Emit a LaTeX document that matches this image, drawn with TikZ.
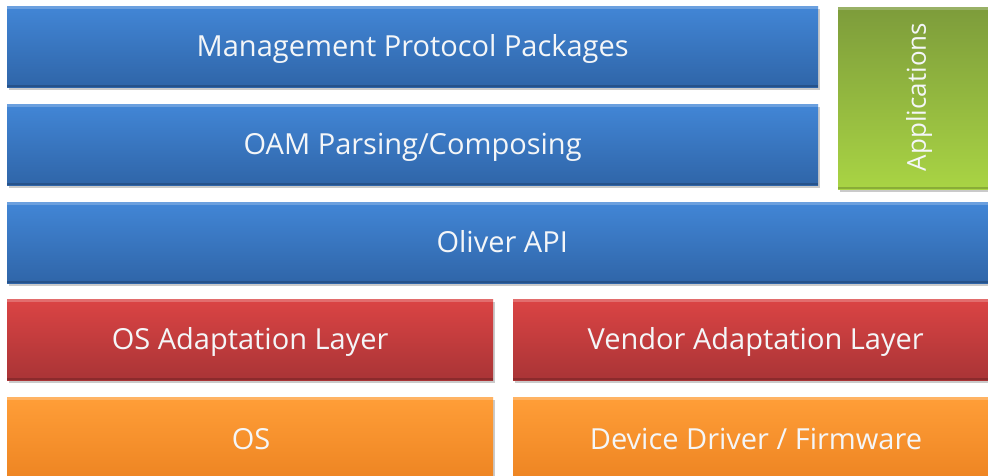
\documentclass[tikz,border=0pt]{standalone}
\usepackage{fontspec}
\setmainfont{Open Sans}
\usetikzlibrary{shadows}
\definecolor{bluetop}{HTML}{4286D6}
\definecolor{bluebot}{HTML}{2F65A8}
\definecolor{redtop}{HTML}{DB4444}
\definecolor{redbot}{HTML}{A93436}
\definecolor{ortop}{HTML}{FF9E38}
\definecolor{orbot}{HTML}{EC8220}
\definecolor{grtop}{HTML}{7D9C3B}
\definecolor{grbot}{HTML}{A9D444}
\definecolor{txt}{HTML}{F4F6F8}
\begin{document}
\begin{tikzpicture}[x=1pt,y=-1pt,
  layer/.style={draw=none, inner sep=0pt, anchor=north west,
     font=\fontsize{29}{34}\selectfont, text=txt, text height=22pt, text depth=2pt,
     drop shadow={shadow xshift=1.5pt, shadow yshift=-2.5pt, opacity=0.35, fill=black!60},
     path picture={
       \fill[white,opacity=0.22] (path picture bounding box.north west) rectangle ([yshift=-3pt]path picture bounding box.north east);
       \fill[black,opacity=0.18] (path picture bounding box.south west) rectangle ([yshift=2pt]path picture bounding box.south east);
     }},
  bluebox/.style={layer, top color=bluetop, bottom color=bluebot},
  redbox/.style={layer, top color=redtop, bottom color=redbot},
  orbox/.style={layer, top color=ortop, bottom color=orbot},
  grbox/.style={layer, top color=grtop, bottom color=grbot},
  lbl/.style={text=txt, font=\fontsize{29}{34}\selectfont, inner sep=0pt},
]
\useasboundingbox (0,0) rectangle (988,475);
\node[bluebox, minimum width=811pt, minimum height=81pt] (mpp) at (7,6) {Management Protocol Packages};
\node[bluebox, minimum width=811pt, minimum height=81pt] (oam) at (7,104) {OAM Parsing/Composing};
\node[grbox, minimum width=160pt, minimum height=182pt] (app) at (838,7) {};
\node[lbl, rotate=90, font=\fontsize{26}{30}\selectfont] (applbl) at (919,97) {Applications};
\node[bluebox, minimum width=990pt, minimum height=81pt] (api) at (7,202) {Oliver API};
\node[redbox, minimum width=486pt, minimum height=81pt] (osal) at (7,299) {OS Adaptation Layer};
\node[redbox, minimum width=485pt, minimum height=81pt] (val) at (513,299) {Vendor Adaptation Layer};
\node[orbox, minimum width=486pt, minimum height=90pt] (os) at (7,397) {};
\node[orbox, minimum width=485pt, minimum height=90pt] (ddf) at (513,397) {};
\node[lbl] (oslbl) at (251,439) {OS};
\node[lbl] (ddflbl) at (756,439) {Device Driver / Firmware};
\end{tikzpicture}
\end{document}
